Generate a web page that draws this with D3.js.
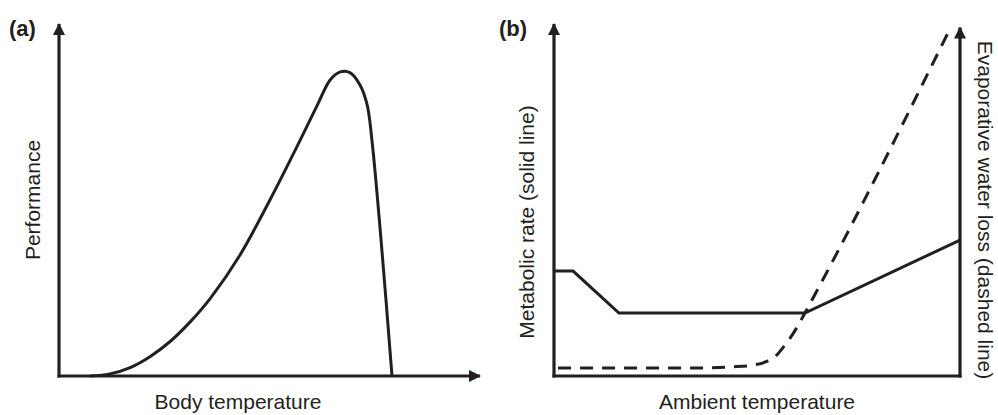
<!DOCTYPE html>
<html>
<head>
<meta charset="utf-8">
<script src="https://cdn.jsdelivr.net/npm/d3@7"></script>
<style>
  html, body { margin: 0; padding: 0; background: #fff; }
  svg { display: block; font-family: "Liberation Sans", Arial, sans-serif; }
</style>
</head>
<body>
<svg id="chart" width="998" height="415"></svg>
<script>
// Panel (a): performance vs body temperature (axis units 0-100)
const perfX = [7.4, 12.1, 16.9, 21.6, 26.4, 31.1, 35.9, 43.0, 50.1, 56.5, 61.5, 64.4, 66.8, 69.1, 71.5, 73.2, 74.4, 76.5, 79.1];
const perfY = [0, 0.6, 2.4, 5.5, 9.8, 15.3, 22.0, 34.4, 50.0, 65.1, 77.3, 84.1, 86.4, 86.2, 82.7, 77.0, 66.2, 38.6, 0];

// Panel (b): metabolic rate (solid) and evaporative water loss (dashed)
const metabX = [0, 4.7, 16, 61.8, 100];
const metabY = [29.8, 29.8, 17.9, 17.9, 38.6];
const evapX = [1, 36, 44.1, 49, 52.7, 54.9, 56.9, 59.9, 61.8, 97];
const evapY = [2.3, 2.3, 2.6, 3.1, 4.3, 6.0, 8.8, 13.9, 17.9, 97.4];

const labelsA = { tag: "(a)", x: "Body temperature", y: "Performance" };
const labelsB = { tag: "(b)", x: "Ambient temperature", y: "Metabolic rate (solid line)", y2: "Evaporative water loss (dashed line)" };

const svg = d3.select("#chart");
const ink = "#231f20";

// arrow marker
const defs = svg.append("defs");
defs.append("marker")
  .attr("id", "arrow")
  .attr("viewBox", "0 0 12 12")
  .attr("refX", 11).attr("refY", 6)
  .attr("markerWidth", 12).attr("markerHeight", 12)
  .attr("markerUnits", "userSpaceOnUse")
  .attr("orient", "auto")
  .append("path")
  .attr("d", "M0,0 L12,6 L0,12 Z")
  .attr("fill", ink);

function axisLine(x1, y1, x2, y2, arrow) {
  svg.append("line")
    .attr("x1", x1).attr("y1", y1).attr("x2", x2).attr("y2", y2)
    .attr("stroke", ink).attr("stroke-width", 3.2)
    .attr("marker-end", arrow ? "url(#arrow)" : null);
}

function label(x, y, rot, txt) {
  svg.append("text")
    .attr("transform", `translate(${x},${y}) rotate(${rot})`)
    .attr("text-anchor", "middle").attr("font-size", 21).attr("fill", ink)
    .text(txt);
}

// ── Panel (a) ──────────────────────────────────────────────
const xa = d3.scaleLinear().domain([0, 100]).range([59, 480]);
const ya = d3.scaleLinear().domain([0, 100]).range([376, 24]);

axisLine(xa(0), ya(0) + 1.5, xa(0), ya(100), true);
axisLine(xa(0) - 1.5, ya(0), xa(100), ya(0), true);

const lineA = d3.line()
  .x((d, i) => xa(perfX[i]))
  .y((d, i) => ya(perfY[i]))
  .curve(d3.curveCatmullRom.alpha(0.5));

svg.append("path")
  .attr("d", lineA(perfX))
  .attr("fill", "none")
  .attr("stroke", ink)
  .attr("stroke-width", 3);

svg.append("text").attr("x", 9).attr("y", 36)
  .attr("font-size", 22).attr("font-weight", "bold").attr("fill", ink)
  .text(labelsA.tag);
label(238, 409, 0, labelsA.x);
label(40, 200, -90, labelsA.y);

// ── Panel (b) ──────────────────────────────────────────────
const xb = d3.scaleLinear().domain([0, 100]).range([554, 960]);
const yb = d3.scaleLinear().domain([0, 100]).range([376, 24]);

axisLine(xb(0), yb(0) + 1.5, xb(0), yb(100), true);
axisLine(xb(0) - 1.5, yb(0), xb(100) + 1.5, yb(0), false);
axisLine(xb(100), yb(0) + 1.5, xb(100), yb(99), true);

const lineMetab = d3.line()
  .x((d, i) => xb(metabX[i]))
  .y((d, i) => yb(metabY[i]));

svg.append("path")
  .attr("d", lineMetab(metabX))
  .attr("fill", "none")
  .attr("stroke", ink)
  .attr("stroke-width", 3);

const lineEvap = d3.line()
  .x((d, i) => xb(evapX[i]))
  .y((d, i) => yb(evapY[i]))
  .curve(d3.curveMonotoneX);

svg.append("path")
  .attr("d", lineEvap(evapX))
  .attr("fill", "none")
  .attr("stroke", ink)
  .attr("stroke-width", 3)
  .attr("stroke-dasharray", "13 9");

svg.append("text").attr("x", 499).attr("y", 36)
  .attr("font-size", 22).attr("font-weight", "bold").attr("fill", ink)
  .text(labelsB.tag);
label(757, 409, 0, labelsB.x);
label(534, 222, -90, labelsB.y);
label(978, 210, 90, labelsB.y2);
</script>
</body>
</html>
